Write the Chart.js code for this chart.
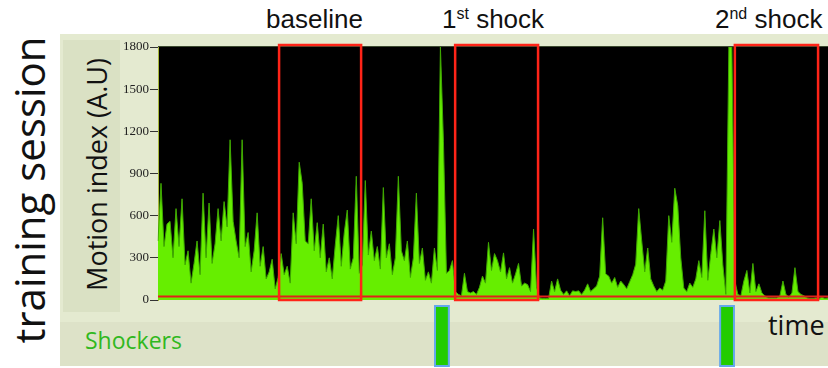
<!DOCTYPE html>
<html>
<head>
<meta charset="utf-8">
<script src="https://cdn.jsdelivr.net/npm/chart.js@4.4.1/dist/chart.umd.min.js"></script>
<style>
  body { margin: 0; width: 828px; height: 368px; background: #fff; position: relative; overflow: hidden; }
  .box { position: absolute; }
  #panel { left: 60px; top: 34px; width: 768px; height: 332px; background: #e4ead0; }
  #leftPanel { left: 63px; top: 40px; width: 57px; height: 272px; background: #dae1c4; }
  #bottomRow { left: 60px; top: 322px; width: 768px; height: 44px; background: #dde2c8; }
  .txt { position: absolute; white-space: nowrap; }
  .side { font-family: "Open Sans", sans-serif; color: #111; text-align: center; }
  #session { left: -141px; top: 169px; width: 340px; font-size: 42px; line-height: 42px; transform: rotate(-90deg); }
  #yTitle { left: -29px; top: 161px; width: 250px; font-size: 27px; line-height: 27px; transform: rotate(-90deg); }
  .head { font-family: "Liberation Sans", Arial, sans-serif; font-size: 26px; line-height: 26px; top: 6px; color: #111; }
  .head sup { font-size: 16px; vertical-align: 9px; line-height: 0; }
  #shockers { left: 85px; top: 329px; font-family: "Open Sans", sans-serif; font-size: 23px; line-height: 23px; color: #30b820; }
  #time { left: 768px; top: 311px; font-family: "Open Sans", sans-serif; font-size: 27px; line-height: 27px; color: #111; }
  canvas { position: absolute; left: 0; top: 0; }
</style>
</head>
<body>
<div class="box" id="panel"></div>
<div class="box" id="leftPanel"></div>
<div class="box" id="bottomRow"></div>
<div class="txt side" id="session">training session</div>
<div class="txt side" id="yTitle">Motion index (A.U)</div>
<div class="txt head" style="left:266px">baseline</div>
<div class="txt head" style="left:442px">1<sup>st</sup> shock</div>
<div class="txt head" style="left:715px">2<sup>nd</sup> shock</div>
<div class="txt" id="shockers">Shockers</div>
<div class="txt" id="time">time</div>
<canvas id="motionChart" width="828" height="368"></canvas>

<script>
// motion index, one sample per ~3 px of the original trace
const motion = [
  420, 830, 380, 540, 560, 300, 650, 380, 720, 250, 350, 120, 260, 420, 180, 760,
  300, 690, 260, 400, 650, 420, 700, 520, 1140, 560, 420, 300, 1140, 380, 480, 200,
  350, 620, 240, 380, 150, 200, 290, 80, 160, 330, 180, 240, 120, 620, 400, 980,
  830, 420, 400, 720, 350, 550, 300, 540, 200, 300, 150, 390, 600, 240, 480, 640,
  220, 300, 880, 190, 250, 850, 320, 490, 280, 380, 220, 800, 300, 400, 180, 300,
  880, 350, 280, 420, 160, 300, 760, 260, 370, 140, 200, 120, 370, 210, 1800, 1130,
  190, 210, 280, 60, 40, 30, 190, 60, 50, 60, 40, 90, 170, 120, 410, 210,
  330, 280, 200, 335, 150, 230, 120, 185, 260, 100, 120, 110, 60, 505, 90, 15,
  10, 10, 10, 135, 60, 150, 70, 40, 65, 30, 65, 60, 65, 40, 70, 115,
  60, 80, 100, 170, 585, 185, 170, 120, 160, 90, 135, 110, 80, 130, 180, 255,
  650, 420, 200, 370, 150, 100, 60, 85, 70, 135, 600, 410, 795, 670, 300, 85,
  60, 120, 90, 150, 280, 160, 635, 140, 330, 505, 300, 565, 250, 40, 1800, 1800,
  135, 40, 30, 135, 210, 50, 260, 60, 115, 50, 30, 15, 15, 15, 15, 30,
  135, 40, 20, 50, 230, 60, 40, 30, 15, 10, 10, 15, 10, 20, 10, 15
];
const yTicks = [0, 300, 600, 900, 1200, 1500, 1800];
const windowStart = [40.3, 98.9, 192.0];   // baseline, 1st shock, 2nd shock
const windowEnd = [67.6, 126.5, 219.7];
const shockTimes = [94.5, 189.4];
const shockLength = 4.6;
const threshold = 25;

const decor = {
  id: 'decor',
  beforeDraw(chart) {
    const { ctx, chartArea: a } = chart;
    ctx.save();
    ctx.fillStyle = '#000';
    ctx.fillRect(a.left, a.top, a.right - a.left, a.bottom - a.top);
    ctx.fillStyle = '#3c4a30';
    ctx.fillRect(a.left, a.top - 1, a.right - a.left, 1);
    ctx.restore();
  },
  afterDatasetsDraw(chart) {
    const { ctx, chartArea: a, scales: { x, y } } = chart;
    ctx.save();
    // threshold line
    ctx.strokeStyle = '#e0201a';
    ctx.lineWidth = 2;
    const ty = y.getPixelForValue(threshold);
    ctx.beginPath();
    ctx.moveTo(a.left, ty);
    ctx.lineTo(a.right, ty);
    ctx.stroke();
    // analysis windows
    ctx.strokeStyle = '#ff2418';
    ctx.lineWidth = 2.5;
    windowStart.forEach((s, i) => {
      const x1 = x.getPixelForValue(s);
      const x2 = x.getPixelForValue(windowEnd[i]);
      ctx.strokeRect(x1, a.top - 2, x2 - x1, a.bottom - a.top + 2);
    });
    // shocker bars under the trace
    shockTimes.forEach(t => {
      const x1 = x.getPixelForValue(t - shockLength / 2);
      const x2 = x.getPixelForValue(t + shockLength / 2);
      ctx.fillStyle = '#22cc00';
      ctx.fillRect(x1, a.bottom + 6, x2 - x1, 60);
      ctx.strokeStyle = '#63a8ec';
      ctx.lineWidth = 2;
      ctx.strokeRect(x1, a.bottom + 6, x2 - x1, 60);
    });
    ctx.restore();
  }
};

new Chart(document.getElementById('motionChart'), {
  type: 'line',
  data: {
    labels: motion.map((_, i) => i),
    datasets: [{
      data: motion,
      fill: 'origin',
      backgroundColor: '#66ee00',
      borderColor: '#3fa800',
      borderWidth: 1,
      pointRadius: 0,
      tension: 0
    }]
  },
  options: {
    responsive: false,
    animation: false,
    devicePixelRatio: 1,
    layout: { padding: { left: 120, top: 47, right: 0, bottom: 68 } },
    plugins: { legend: { display: false }, tooltip: { enabled: false } },
    scales: {
      x: { display: false },
      y: {
        min: 0,
        max: 1800,
        afterFit: s => { s.width = 38; },
        afterBuildTicks: s => { s.ticks = yTicks.map(v => ({ value: v })); },
        ticks: {
          color: '#222',
          padding: 1,
          font: { family: 'Liberation Sans Narrow', size: 13 },
          callback: v => String(v)
        },
        grid: { drawOnChartArea: false, tickLength: 8, color: '#333' },
        border: { color: '#a8b83a', width: 1 }
      }
    }
  },
  plugins: [decor]
});
</script>
</body>
</html>
